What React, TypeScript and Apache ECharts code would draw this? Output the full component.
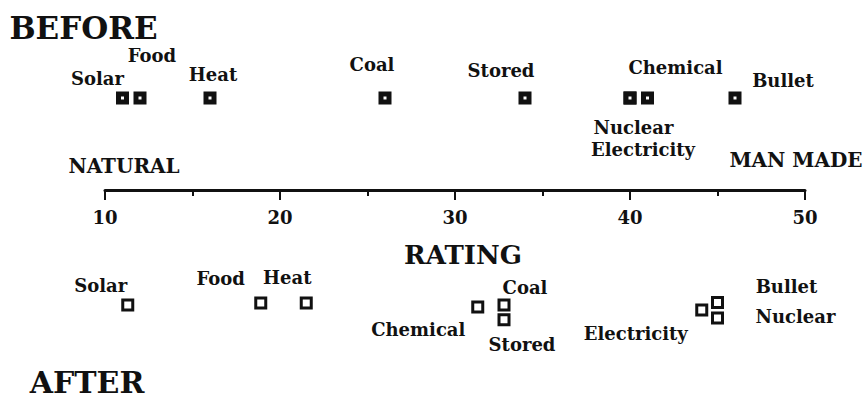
import React, { useEffect, useRef } from 'react';
import * as echarts from 'echarts';

// ---- data ----
const ratingMin = 10;
const ratingMax = 50;

const beforeNames = ['Solar', 'Food', 'Heat', 'Coal', 'Stored', 'Nuclear', 'Electricity', 'Chemical', 'Bullet'];
const beforeRating = [11, 12, 16, 26, 34, 40, 40, 41, 46];
const beforeRow = [4, 4, 4, 4, 4, 4, 4, 4, 4];

const afterNames = ['Solar', 'Food', 'Heat', 'Chemical', 'Coal', 'Stored', 'Electricity', 'Bullet', 'Nuclear'];
const afterRating = [11.3, 18.9, 21.5, 31.3, 32.8, 32.8, 44.1, 45.0, 45.0];
const afterRow = [-5.0, -4.91, -4.91, -5.09, -5.0, -5.64, -5.22, -4.89, -5.56];

// ---- label placement (layout, px offsets from marker centre) ----
const beforeLabelOffsets = [[-25, -20], [12, -43], [3, -24], [-13, -34], [-24, -28], [3.5, 29], [13, 51], [28, -31], [48, -18]];
const afterLabelOffsets = [[-27, -20], [-40, -24], [-19, -25], [-59.5, 22], [21, -18], [18, 25], [-66, 23.5], [69, -15.5], [78, -1.5]];

const FONT = '"DejaVu Serif", "Liberation Serif", serif';
const INK = '#111';

function buildData(names: string[], xs: number[], ys: number[], offs: number[][]) {
  return names.map((n, i) => ({
    name: n,
    value: [xs[i], ys[i]],
    label: { offset: offs[i] },
  }));
}

const labelStyle = {
  show: true,
  position: 'inside',
  formatter: '{b}',
  color: INK,
  opacity: 1,
  textBorderWidth: 0,
  textBorderColor: 'transparent',
  fontFamily: FONT,
  fontWeight: 'bold',
  fontSize: 18,
  align: 'center',
  verticalAlign: 'middle',
};

export default function App() {
  const ref = useRef<HTMLDivElement>(null);
  useEffect(() => {
    if (!ref.current) return;
    const chart = echarts.init(ref.current, null, { renderer: 'svg' });
    chart.setOption({
      animation: false,
      backgroundColor: '#fff',
      // the grid ends at the rating axis; the "after" row sits below it (clip off)
      grid: { left: 105, right: 60, top: 98, bottom: 208, outerBoundsMode: 'none', containLabel: false },
      xAxis: {
        type: 'value',
        min: ratingMin,
        max: ratingMax,
        interval: 10,
        name: 'RATING',
        nameLocation: 'middle',
        nameGap: 65,
        nameTextStyle: {
          color: INK,
          fontFamily: FONT,
          fontWeight: 'bold',
          fontSize: 26,
          verticalAlign: 'middle',
          padding: [0, 0, 0, 16],
        },
        axisLine: { show: true, onZero: false, lineStyle: { color: INK, width: 3 } },
        axisTick: { show: true, length: 10, lineStyle: { color: INK, width: 2 } },
        minorTick: { show: true, splitNumber: 2, length: 6, lineStyle: { color: INK, width: 2 } },
        splitLine: { show: false },
        minorSplitLine: { show: false },
        axisLabel: {
          color: INK,
          fontFamily: FONT,
          fontWeight: 'bold',
          fontSize: 18,
          margin: 18,
        },
      },
      yAxis: {
        type: 'value',
        min: 0,
        max: 4,
        show: false,
        splitLine: { show: false },
      },
      graphic: [
        { type: 'text', x: 83.5, y: 27.5, style: { text: 'BEFORE', fill: INK, fontFamily: FONT, fontWeight: 'bold', fontSize: 31, align: 'center', verticalAlign: 'middle' } },
        { type: 'text', x: 87, y: 382, style: { text: 'AFTER', fill: INK, fontFamily: FONT, fontWeight: 'bold', fontSize: 30, align: 'center', verticalAlign: 'middle' } },
        { type: 'text', x: 124, y: 166, style: { text: 'NATURAL', fill: INK, fontFamily: FONT, fontWeight: 'bold', fontSize: 20, align: 'center', verticalAlign: 'middle' } },
        { type: 'text', x: 796, y: 160, style: { text: 'MAN MADE', fill: INK, fontFamily: FONT, fontWeight: 'bold', fontSize: 20, align: 'center', verticalAlign: 'middle' } },
      ],
      series: [
        {
          name: 'Before',
          type: 'scatter',
          clip: false,
          symbol: 'rect',
          symbolSize: 8,
          itemStyle: { color: '#fff', borderColor: INK, borderWidth: 5, opacity: 1 },
          label: labelStyle,
          data: buildData(beforeNames, beforeRating, beforeRow, beforeLabelOffsets),
        },
        {
          name: 'After',
          type: 'scatter',
          clip: false,
          symbol: 'rect',
          symbolSize: 10,
          itemStyle: { color: '#fff', borderColor: INK, borderWidth: 3, opacity: 1 },
          label: labelStyle,
          data: buildData(afterNames, afterRating, afterRow, afterLabelOffsets),
        },
      ],
    });
    return () => chart.dispose();
  }, []);
  return (
    <div
      ref={ref}
      style={{ position: 'fixed', left: 0, top: 0, width: 865, height: 398, background: '#fff' }}
    />
  );
}
